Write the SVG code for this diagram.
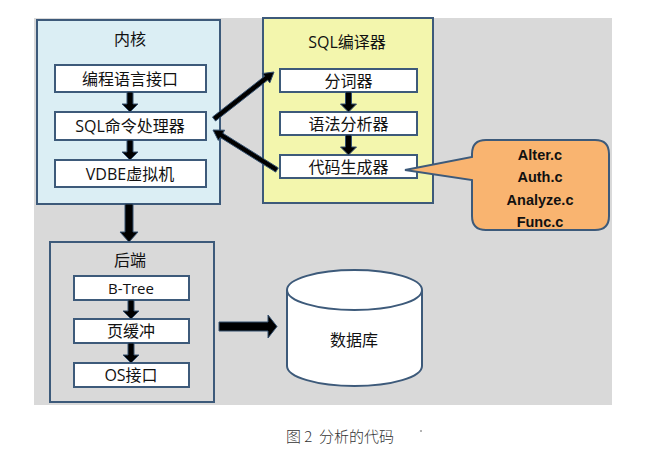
<svg xmlns="http://www.w3.org/2000/svg" width="665" height="453" viewBox="0 0 665 453">
<style>
.t{font-family:"Open Sans","Noto Sans CJK SC",sans-serif;font-size:16px;fill:#111;text-anchor:middle;dominant-baseline:central}
.s{font-size:15px}
.box{fill:#fff;stroke:#3d5a7a;stroke-width:2}
.grp{stroke:#3d5a7a;stroke-width:2}
.ar{fill:#000;stroke:#34506f;stroke-width:1}
.c{font-family:"Liberation Sans",Arial,sans-serif;font-weight:bold;font-size:14.5px;fill:#111;text-anchor:middle;dominant-baseline:central}
</style>
<rect x="34" y="18" width="578" height="387" fill="#d9d9d9"/>

<g id="kernel">
<rect class="grp" x="37" y="20" width="183" height="184" fill="#dbeef4"/>
<text class="t" x="130" y="39">内核</text>
</g>
<g id="n-api"><rect class="box" x="55" y="65" width="151" height="27"/><text class="t" x="130" y="78.5">编程语言接口</text></g>
<g id="n-sqlcmd"><rect class="box" x="55" y="112" width="151" height="28"/><text class="t" x="130" y="126">SQL命令处理器</text></g>
<g id="n-vdbe"><rect class="box" x="55" y="160" width="151" height="27"/><text class="t" x="130" y="173.5">VDBE虚拟机</text></g>

<g id="compiler">
<rect class="grp" x="263" y="18" width="170" height="185" fill="#f3f6ad"/>
<text class="t" x="347" y="42">SQL编译器</text>
</g>
<g id="n-tok"><rect class="box" x="280" y="69" width="137" height="23"/><text class="t" x="348.5" y="80.5">分词器</text></g>
<g id="n-parse"><rect class="box" x="280" y="112" width="137" height="23"/><text class="t" x="348.5" y="123.5">语法分析器</text></g>
<g id="n-gen"><rect class="box" x="280" y="155" width="137" height="23"/><text class="t" x="348.5" y="166.5">代码生成器</text></g>

<g id="callout">
<path d="M486,140 H595 Q609,140 609,154 V216 Q609,230 595,230 H486 Q472,230 472,216 V180 L405,170 L472,157 V154 Q472,140 486,140 Z" fill="#f9b470" stroke="#3d5a7a" stroke-width="2"/>
<text class="c" x="540" y="155">Alter.c</text>
<text class="c" x="540" y="177">Auth.c</text>
<text class="c" x="540" y="200">Analyze.c</text>
<text class="c" x="540" y="222">Func.c</text>
</g>

<g id="backend">
<rect class="grp" x="50" y="242" width="164" height="160" fill="#d9d9d9"/>
<text class="t" x="130" y="260">后端</text>
</g>
<g id="n-btree"><rect class="box" x="74" y="276" width="115" height="24"/><text class="t s" x="131" y="288">B-Tree</text></g>
<g id="n-pager"><rect class="box" x="74" y="319" width="115" height="24"/><text class="t" x="131" y="331">页缓冲</text></g>
<g id="n-os"><rect class="box" x="74" y="363" width="115" height="24"/><text class="t" x="131" y="375">OS接口</text></g>

<g id="database">
<path d="M287,290 V366 A67.5,20 0 0 0 422,366 V290" fill="#fff" stroke="#3d5a7a" stroke-width="2"/>
<ellipse cx="354.5" cy="290" rx="67.5" ry="20" fill="#fff" stroke="#3d5a7a" stroke-width="2"/>
<text class="t" x="354" y="340">数据库</text>
</g>

<g id="connectors">
<path class="ar" d="M127,92 V104 H122 L130,112 L138,104 H133 V92 Z"/>
<path class="ar" d="M127,140 V152 H122 L130,160 L138,152 H133 V140 Z"/>
<path class="ar" d="M345.5,92 V104 H340.5 L348.5,112 L356.5,104 H351.5 V92 Z"/>
<path class="ar" d="M345.5,135 V147 H340.5 L348.5,155 L356.5,147 H351.5 V135 Z"/>
<path class="ar" d="M128,300 V311 H123 L131,319 L139,311 H134 V300 Z"/>
<path class="ar" d="M128,343 V355 H123 L131,363 L139,355 H134 V343 Z"/>
<path class="ar" d="M125,204 V232 H120 L129,242 L138,232 H133 V204 Z"/>
<path class="ar" d="M219,322 H268 V315 L277,326.5 L268,338 V331 H219 Z"/>
<path class="ar" d="M215.5,121 L267.7,80.1 L269.8,82.9 L274,72 L262.4,73.5 L264.6,76.2 L212.5,117 Z"/>
<path class="ar" d="M278.3,167.9 L222.8,133.2 L224.7,130.2 L213,130 L218.3,140.4 L220.2,137.4 L275.7,172.1 Z"/>
</g>

<text x="340" y="435" xml:space="preserve" font-family="'Noto Sans CJK SC',sans-serif" font-size="15" fill="#333" text-anchor="middle" dominant-baseline="central" font-weight="300">图 2  分析的代码</text>
<circle cx="421" cy="431" r="0.8" fill="#555"/>
</svg>
